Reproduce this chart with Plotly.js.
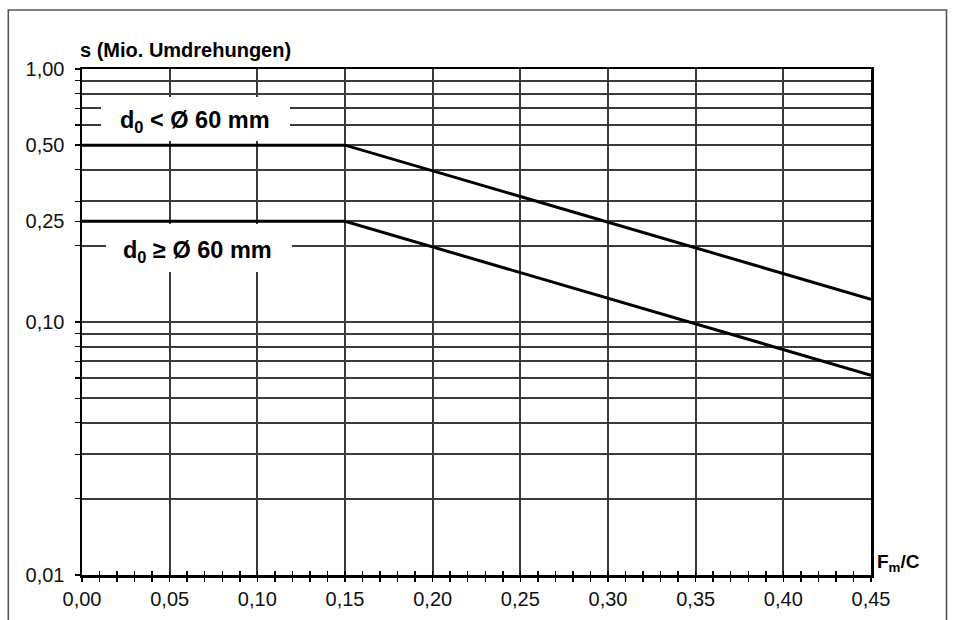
<!DOCTYPE html>
<html>
<head>
<meta charset="utf-8">
<script src="https://cdn.plot.ly/plotly-3.0.1.min.js"></script>
<style>html,body{margin:0;padding:0;background:#fff;}#chart{width:954px;height:620px;}</style>
</head>
<body>
<div id="chart"></div>
<script>
// Data
const xPoints = [0, 0.15, 0.45];
const sSmallBore = [0.5, 0.5, 0.123];    // d0 < Ø 60 mm
const sLargeBore = [0.25, 0.25, 0.0616]; // d0 ≥ Ø 60 mm

const xTickVals = [0, 0.05, 0.10, 0.15, 0.20, 0.25, 0.30, 0.35, 0.40, 0.45];
const xTickText = ['0,00', '0,05', '0,10', '0,15', '0,20', '0,25', '0,30', '0,35', '0,40', '0,45'];
const yTickVals = [0.01, 0.1, 0.25, 0.5, 1];
const yTickText = ['0,01', '0,10', '0,25', '0,50', '1,00'];
const yMinorVals = [0.02, 0.03, 0.04, 0.05, 0.06, 0.07, 0.08, 0.09, 0.2, 0.3, 0.4, 0.6, 0.7, 0.8, 0.9];

const FONT = 'Liberation Sans, Arial, sans-serif';
const GRID = '#3a3a3a';

const traces = [
  {x: xPoints, y: sSmallBore, mode: 'lines', line: {color: '#000', width: 3}, hoverinfo: 'skip', showlegend: false},
  {x: xPoints, y: sLargeBore, mode: 'lines', line: {color: '#000', width: 3}, hoverinfo: 'skip', showlegend: false},
  {x: [], y: [], xaxis: 'x2', yaxis: 'y', mode: 'lines', hoverinfo: 'skip', showlegend: false}
];

const layout = {
  width: 954, height: 620,
  margin: {l: 82, r: 83, t: 69, b: 45},
  paper_bgcolor: '#fff', plot_bgcolor: '#fff',
  font: {family: FONT, color: '#000'},
  showlegend: false,
  xaxis: {
    range: [0, 0.45], tickmode: 'array', tickvals: xTickVals, ticktext: xTickText,
    ticks: 'outside', ticklen: 4, tickwidth: 1.5, tickcolor: '#000',
    showgrid: true, gridcolor: GRID, gridwidth: 2,
    showline: true, linecolor: '#000', linewidth: 2.5, mirror: true,
    zeroline: false,
    tickfont: {family: FONT, size: 20, color: '#111'},
    ticklabelstandoff: 0,
    minor: {dtick: 0.01, tick0: 0, ticks: 'outside', ticklen: 4, tickwidth: 1.5, tickcolor: '#000', showgrid: false}
  },
  xaxis2: {
    range: [0, 0.45], overlaying: 'x', anchor: 'y', side: 'bottom',
    showticklabels: false, showgrid: false, zeroline: false, showline: false,
    tickmode: 'array', tickvals: xTickVals,
    ticks: 'inside', ticklen: 4, tickwidth: 1.5, tickcolor: '#000',
    minor: {dtick: 0.01, tick0: 0, ticks: 'inside', ticklen: 4, tickwidth: 1.5, tickcolor: '#000', showgrid: false}
  },
  yaxis: {
    type: 'log', range: [-2, 0], tickmode: 'array', tickvals: yTickVals, ticktext: yTickText,
    ticks: 'outside', ticklen: 5, tickwidth: 1.5, tickcolor: '#000',
    showgrid: true, gridcolor: GRID, gridwidth: 2,
    showline: true, linecolor: '#000', linewidth: 2.5, mirror: true,
    zeroline: false,
    tickfont: {family: FONT, size: 20, color: '#111'},
    ticklabelstandoff: 6,
    minor: {tickmode: 'array', tickvals: yMinorVals, ticks: 'outside', ticklen: 5, tickwidth: 1.3, tickcolor: '#000',
            showgrid: true, gridcolor: GRID, gridwidth: 2}
  },
  shapes: [
    {type: 'rect', xref: 'paper', yref: 'paper', x0: -0.0934, x1: 1.0957, y0: -0.2, y1: 1.1167,
     line: {color: '#555', width: 1.6}, fillcolor: 'rgba(0,0,0,0)', layer: 'below'},
    {type: 'rect', xref: 'paper', yref: 'paper', x0: 0.0241, x1: 0.2636, y0: 0.8577, y1: 0.9447,
     line: {width: 0}, fillcolor: '#fff', layer: 'above'},
    {type: 'rect', xref: 'paper', yref: 'paper', x0: 0.0304, x1: 0.2662, y0: 0.5988, y1: 0.6937,
     line: {width: 0}, fillcolor: '#fff', layer: 'above'}
  ],
  annotations: [
    {text: '<b>s (Mio. Umdrehungen)</b>', xref: 'paper', yref: 'paper', x: 0, y: 1,
     xanchor: 'left', yanchor: 'bottom', xshift: -4, yshift: 6, showarrow: false,
     font: {family: FONT, size: 20, color: '#000'}},
    {text: '<b>F<sub>m</sub>/C</b>', xref: 'paper', yref: 'paper', x: 1, y: 0,
     xanchor: 'left', yanchor: 'bottom', xshift: 4, yshift: -2, showarrow: false,
     font: {family: FONT, size: 19, color: '#000'}},
    {text: '<b>d<sub>0</sub> &lt; Ø 60 mm</b>', xref: 'paper', yref: 'paper', x: 0.1438, y: 0.8953,
     xanchor: 'center', yanchor: 'middle', showarrow: false,
     font: {family: FONT, size: 23.5, color: '#000'}},
    {text: '<b>d<sub>0</sub> ≥ Ø 60 mm</b>', xref: 'paper', yref: 'paper', x: 0.1468, y: 0.6403,
     xanchor: 'center', yanchor: 'middle', showarrow: false,
     font: {family: FONT, size: 23.5, color: '#000'}}
  ]
};

Plotly.newPlot('chart', traces, layout, {staticPlot: true, displayModeBar: false});
</script>
</body>
</html>
